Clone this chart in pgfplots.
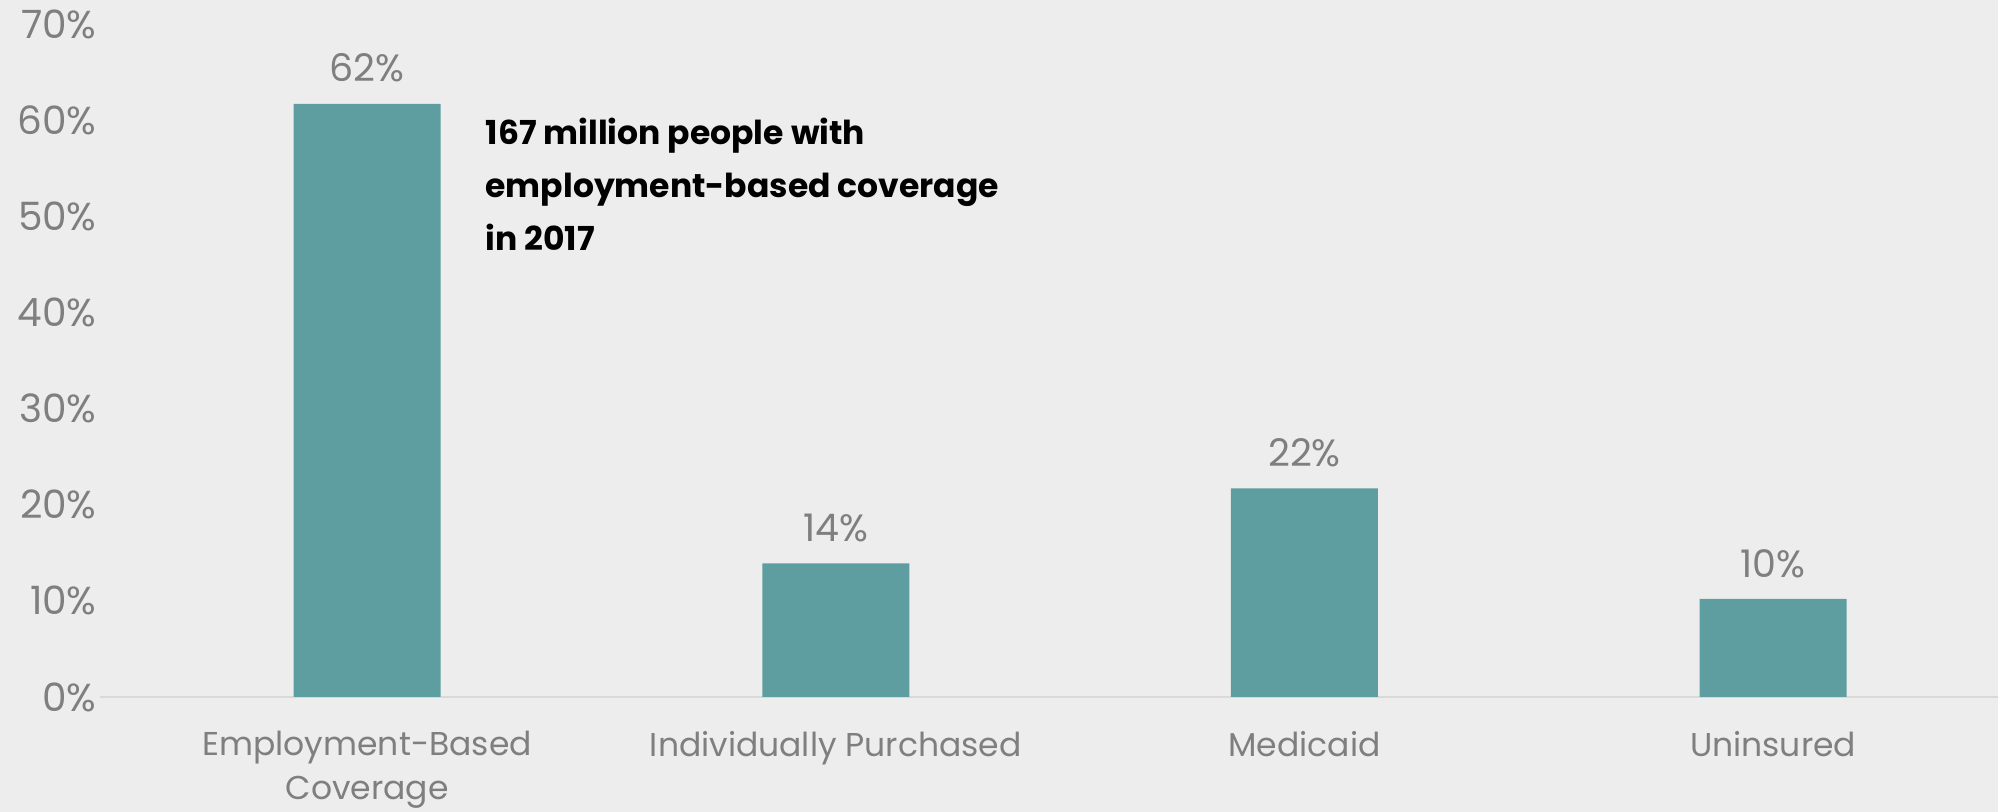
\documentclass[border=0pt]{standalone}
\usepackage{fontspec}
\setmainfont{Poppins}
\usepackage{pgfplots}
\pgfplotsset{compat=1.18}
\definecolor{bg}{HTML}{EDEDED}
\definecolor{barc}{HTML}{5F9EA0}
\definecolor{txt}{HTML}{7F7F7F}
\definecolor{axl}{HTML}{D9D9D9}
\begin{document}
\begin{tikzpicture}
\fill[bg, use as bounding box] (-50pt,-57.5pt) rectangle (949pt,348.5pt);
\begin{axis}[
  at={(0,0)}, anchor=south west,
  scale only axis, width=949pt, height=336.5pt,
  xmin=-0.57, xmax=3.48, ymin=0, ymax=70,
  ybar, bar width=73.5pt,
  axis x line*=bottom, axis y line*=left,
  y axis line style={draw=none},
  x axis line style={draw=axl, line width=1pt},
  xtick={0,1,2,3},
  xticklabels={{Employment-Based\\Coverage},{Individually Purchased},{Medicaid},{Uninsured}},
  xticklabel style={align=center, font=\fontsize{16.5}{22}\selectfont, text=txt, inner sep=0pt, anchor=north, yshift=-17pt},
  ytick={0,10,...,70},
  yticklabel={\pgfmathprintnumber{\tick}\%},
  yticklabel style={font=\fontsize{19.5}{24}\selectfont, text=txt, inner sep=0pt, anchor=east, xshift=-1.5pt},
  major tick length=0pt,
  tick style={draw=none},
  /pgf/number format/assume math mode=true,
  nodes near coords={\pgfmathprintnumber[fixed,precision=0]{\pgfplotspointmeta}\%},
  nodes near coords style={font=\fontsize{19}{24}\selectfont, text=txt, inner sep=0pt, anchor=south, yshift=10.5pt},
  clip=false,
]
\addplot[fill=barc, draw=none] coordinates {(0,61.7) (1,13.9) (2,21.7) (3,10.2)};
\node[anchor=west, align=left, font=\bfseries\fontsize{16.5}{26.5}\selectfont, inner sep=0pt, text=black] at (axis cs:0.252,53.3) {167 million people with\\employment-based coverage\\in 2017};
\end{axis}
\end{tikzpicture}
\end{document}
